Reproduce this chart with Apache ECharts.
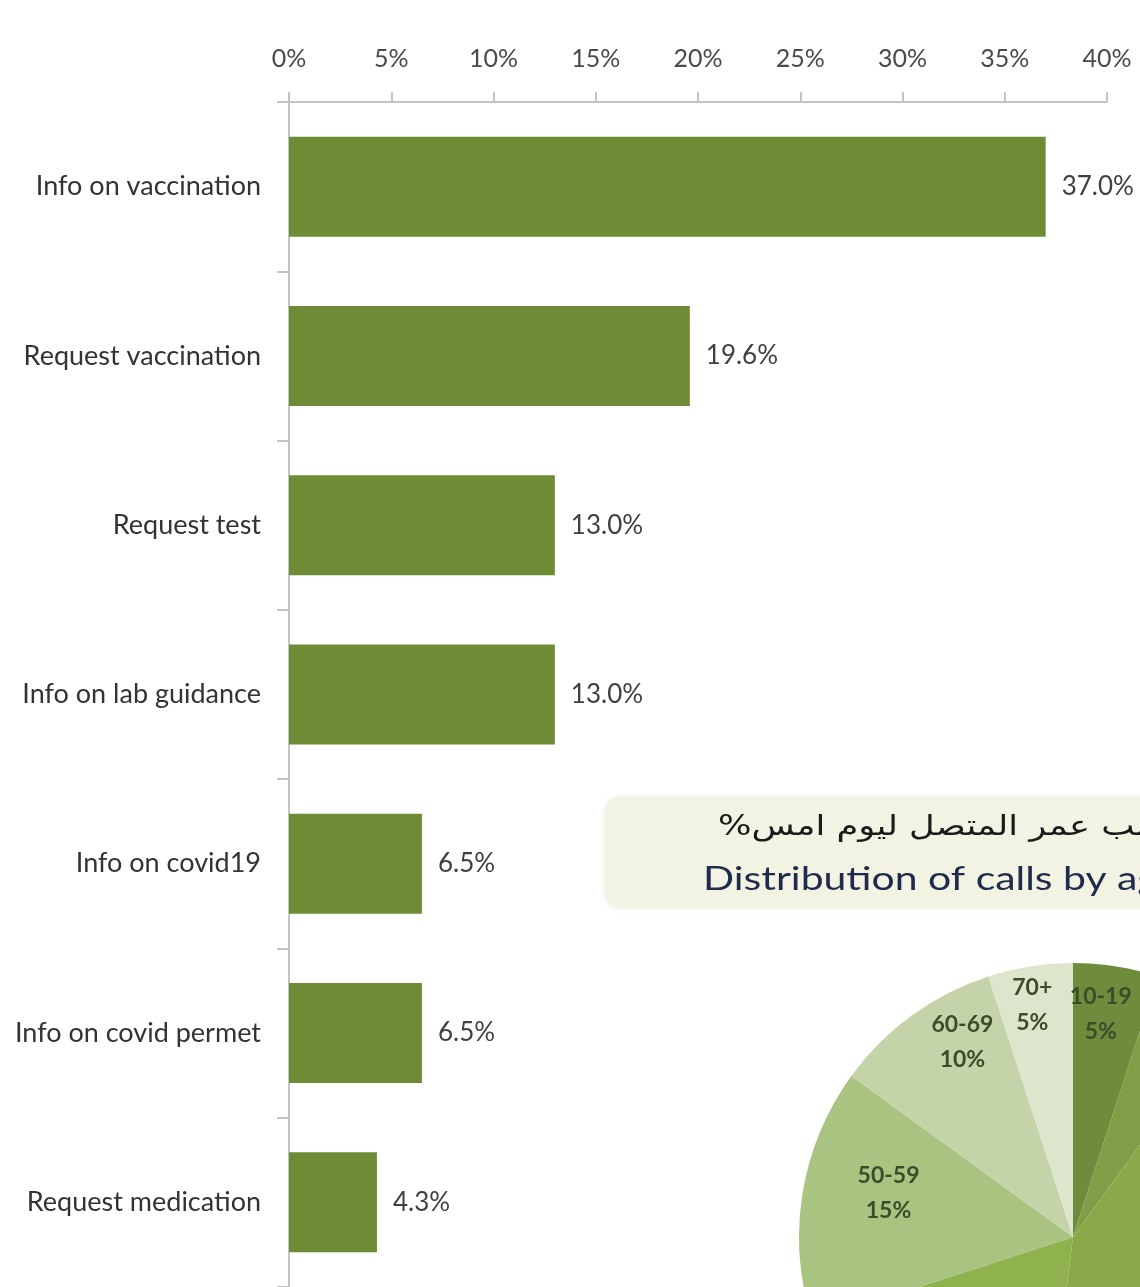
<!DOCTYPE html>
<html>
<head>
<meta charset="utf-8">
<script src="https://cdn.jsdelivr.net/npm/echarts@6/dist/echarts.min.js"></script>
<style>
  html, body { margin: 0; padding: 0; background: #ffffff; }
  #chart { width: 1140px; height: 1287px; }
</style>
</head>
<body>
<div id="chart"></div>
<script>
// ---- data ----
const categories = ['Info on vaccination', 'Request vaccination', 'Request test', 'Info on lab guidance', 'Info on covid19', 'Info on covid permet', 'Request medication'];
const shares = [37.0, 19.6, 13.0, 13.0, 6.5, 6.5, 4.3];
const axisMin = 0, axisMax = 40, axisStep = 5;

const ageGroups = ['10-19', '20-29', '30-39', '40-49', '50-59', '60-69', '70+'];
const ageShares = [5, 5, 42, 18, 15, 10, 5];

const titleArabic = '%توزيع المكالمات حسب عمر المتصل ليوم امس';
const titleEnglish = 'Distribution of calls by age';

// ---- styles / layout ----
const barColor = '#6d8c35';
const pieColors = ['#6e8c3c', '#7f9e47', '#8aaa4a', '#8fb14e', '#a9c480', '#c5d4a8', '#dde5cc'];
const pieLabelOffsets = [[-7, -3], [0, 0], [0, 0], [0, 0], [35, -9], [20, -15], [-6, -12]];

const chart = echarts.init(document.getElementById('chart'));
const pieCenter = [1073, 1237];
const pieR = 274;
const pieData = ageGroups.map((g, i) => ({ name: g, value: ageShares[i], itemStyle: { color: pieColors[i] } }));
const pieLabelData = ageGroups.map((g, i) => ({ name: g, value: ageShares[i], label: { offset: pieLabelOffsets[i] } }));

chart.setOption({
  animation: false,
  backgroundColor: '#ffffff',
  grid: { left: 289, right: 33, top: 102, bottom: 0 },
  xAxis: {
    type: 'value', position: 'top', min: axisMin, max: axisMax, interval: axisStep,
    axisLine: { show: true, lineStyle: { color: '#c4c4c4', width: 2 } },
    axisTick: { show: true, length: 10, lineStyle: { color: '#c4c4c4', width: 2 } },
    splitLine: { show: false },
    axisLabel: { formatter: '{value}%', color: '#4a4a4a', fontFamily: 'Lato', fontSize: 25, margin: 31 }
  },
  yAxis: {
    type: 'category', data: categories, inverse: true,
    axisLine: { show: true, lineStyle: { color: '#c4c4c4', width: 2 } },
    axisTick: { show: true, length: 12, lineStyle: { color: '#c4c4c4', width: 2 } },
    axisLabel: { color: '#333', fontFamily: 'Lato', fontSize: 27, margin: 28 }
  },
  series: [
    {
      type: 'bar', data: shares, barWidth: 100,
      itemStyle: { color: barColor },
      label: { show: true, position: 'right', distance: 16, formatter: p => p.value.toFixed(1) + '%', color: '#404040', fontFamily: 'Lato', fontSize: 26 }
    },
    {
      type: 'pie', center: pieCenter, radius: pieR, startAngle: 90, clockwise: true,
      data: pieData, label: { show: false }, labelLine: { show: false }, silent: true,
      itemStyle: { borderWidth: 0 }
    },
    {
      type: 'pie', center: pieCenter, radius: [pieR * 0.6, pieR], startAngle: 90, clockwise: true,
      data: pieLabelData, silent: true,
      itemStyle: { color: 'rgba(0,0,0,0)' },
      label: { show: true, position: 'inside', formatter: '{b}\n{c}%', color: '#3c4b2a', fontFamily: 'Lato', fontSize: 23, lineHeight: 35, fontWeight: 'bold' },
      labelLine: { show: false }
    }
  ],
  graphic: [
    {
      type: 'rect', shape: { x: 605, y: 797, width: 600, height: 111, r: 14 },
      style: { fill: '#f2f3e3', shadowBlur: 6, shadowColor: 'rgba(0,0,0,0.08)' }, z: 10
    },
    {
      type: 'text', x: 718, y: 828, z: 11, scaleX: 1.26,
      style: { text: titleArabic, font: '28px "DejaVu Sans"', fill: '#1a1a1a', align: 'left', verticalAlign: 'middle' }
    },
    {
      type: 'text', x: 703, y: 879, z: 11, scaleX: 1.24,
      style: { text: titleEnglish, font: '33px Lato', fill: '#1f2b4d', align: 'left', verticalAlign: 'middle' }
    }
  ]
});
</script>
</body>
</html>
